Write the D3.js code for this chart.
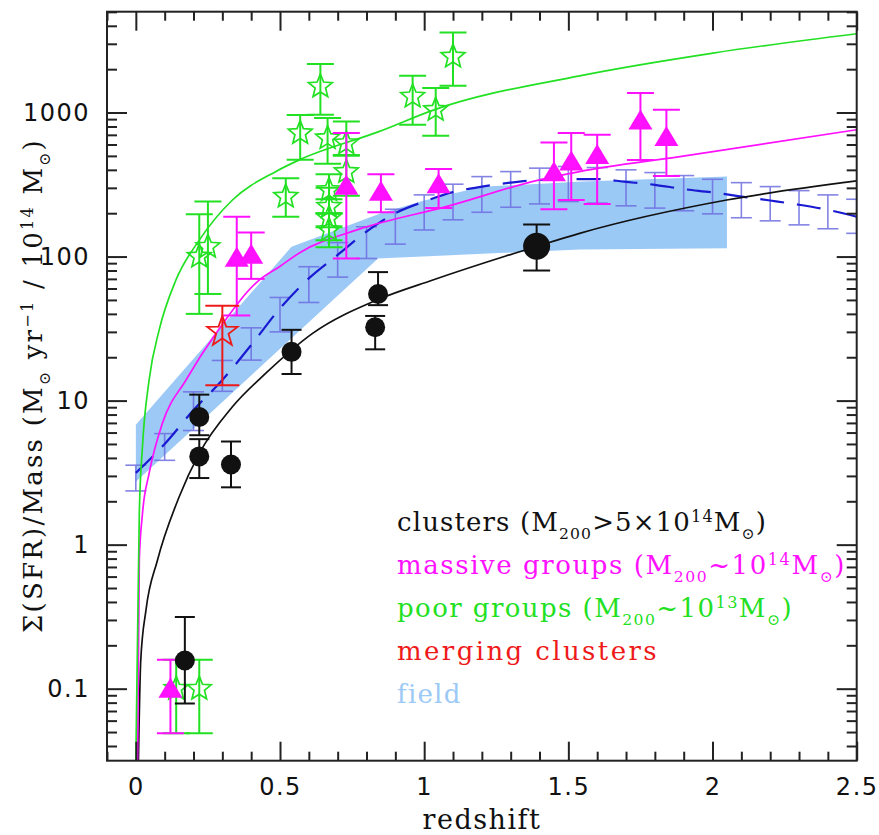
<!DOCTYPE html>
<html>
<head>
<meta charset="utf-8">
<script src="https://cdn.jsdelivr.net/npm/d3@7"></script>
<style>
  body { margin: 0; background: #fff; }
</style>
</head>
<body>
<div id="chart"></div>
<script>
// ---- data ----

// clusters (black filled circles)
const clusterZ   = [0.17, 0.22, 0.22, 0.33, 0.54, 0.84, 0.83];
const clusterVal = [0.157, 7.7, 4.1, 3.6, 21.8, 55, 32.3];
const clusterLo  = [0.079, 5.75, 2.9, 2.5, 15.3, 46, 22.7];
const clusterHi  = [0.315, 11, 5.4, 5.2, 31, 78, 38.7];
// high-z cluster, plotted with a larger symbol
const bigClusterZ   = [1.39];
const bigClusterVal = [118];
const bigClusterLo  = [80];
const bigClusterHi  = [167];

// massive groups (magenta triangles)
const massiveZ   = [0.12, 0.35, 0.40, 0.73, 0.85, 1.05, 1.45, 1.51, 1.60, 1.75, 1.84];
const massiveVal = [0.1, 98, 103, 310, 282, 318, 385, 457, 508, 880, 675];
const massiveLo  = [0.049, 39, 70, 97, 203, 217, 213, 247, 232, 469, 363];
const massiveHi  = [0.159, 189, 147, 720, 373, 406, 620, 720, 700, 1365, 1045];

// poor groups (green open stars)
const poorZ   = [0.14, 0.22, 0.22, 0.25, 0.52, 0.57, 0.64, 0.665, 0.67, 0.67, 0.67, 0.67, 0.73, 0.73, 0.96, 1.04, 1.10];
const poorVal = [0.1, 0.1, 100, 117, 261, 720, 1517, 664, 290, 222, 185, 153, 612, 387, 1292, 1044, 2448];
const poorLo  = [0.049, 0.049, 40, 55, 189, 470, 964, 441, 200, 160, 130, 116, 508, 264, 822, 689, 1534];
const poorHi  = [0.159, 0.159, 197, 241, 350, 960, 2170, 915, 373, 300, 250, 200, 865, 502, 1800, 1478, 3594];

// merging clusters (red open star)
const mergingZ   = [0.30];
const mergingVal = [30];
const mergingLo  = [12.8];
const mergingHi  = [45.6];

// field: dashed model with error bars
const fieldZ   = [0, 0.1, 0.2, 0.3, 0.4, 0.5, 0.6, 0.7, 0.8, 0.9, 1.0, 1.1, 1.2,
                  1.3, 1.4, 1.5, 1.6, 1.7, 1.8, 1.9, 2.0, 2.1, 2.2, 2.3, 2.4, 2.5];
const fieldVal = [3.15, 5.0, 8.6, 13.9, 24.3, 43.7, 70.6, 102.6, 148.9, 200, 241, 280, 306,
                  326, 340, 344, 345, 330, 315, 294, 279, 261, 245, 229, 211, 189];
const fieldLo  = [2.36, 3.85, 6.2, 11.6, 19.1, 30, 48, 72, 97, 122, 153, 180, 203,
                  220, 232, 241, 235, 225, 217, 208, 198, 186, 177, 166, 156, 145];
const fieldHi  = [3.56, 5.9, 11.5, 19, 32, 52, 85, 125, 161, 213, 268, 318, 359,
                  389, 411, 422, 415, 400, 383, 365, 344, 326, 306, 287, 268, 250];

// field: shaded band
const bandTopZ    = [0, 0.54, 0.85, 1.0, 1.2, 1.55, 2.05];
const bandTopVal  = [6.8, 117, 200, 245, 305, 332, 359];
const bandBotZ    = [0, 0.84, 1.54, 2.05];
const bandBotVal  = [2.73, 97, 112, 114];

// model curves
const blackCurveZ   = [0.009, 0.017, 0.035, 0.075, 0.15, 0.22, 0.335, 0.451, 0.613, 0.837, 1.03, 1.395, 1.539, 2.049, 2.5];
const blackCurveVal = [0.0316, 0.157, 0.35, 0.78, 2.14, 4.3, 9.06, 15.5, 29.3, 50, 68.7, 118.5, 145, 247, 335];
const magentaCurveZ   = [0.006, 0.012, 0.023, 0.046, 0.092, 0.174, 0.278, 0.428, 0.498, 0.567, 0.775, 1.076, 1.4, 1.539, 1.887, 2.5];
const magentaCurveVal = [0.0316, 0.78, 1.64, 3.12, 6.95, 13.9, 29.3, 68.7, 85, 106, 155, 222, 341, 389, 494, 759];
const greenCurveZ   = [0.0, 0.012, 0.023, 0.046, 0.081, 0.139, 0.22, 0.335, 0.486, 0.567, 0.845, 1.034, 1.539, 2.002, 2.5];
const greenCurveVal = [0.0316, 1.64, 4.8, 13.9, 31, 68.7, 130, 247, 390, 469, 740, 1044, 1798, 2588, 3524];

// axes
const xTickValues = [0, 0.5, 1, 1.5, 2, 2.5];
const xTickLabels = ['0', '0.5', '1', '1.5', '2', '2.5'];
const yTickValues = [0.1, 1, 10, 100, 1000];
const yTickLabels = ['0.1', '1', '10', '100', '1000'];

// ---- drawing ----
const width = 879, height = 835;
const plotLeft = 107, plotRight = 856.7, plotTop = 11.7, plotBottom = 760.7;

const colors = {
  black: '#111',
  magenta: '#ff10ff',
  green: '#22e022',
  red: '#ee1a1a',
  fieldLine: '#1a1ad2',
  fieldBar: '#6e6ee0',
  band: '#9cc9f6',
  axis: '#222'
};

const svg = d3.select('#chart')
  .append('svg')
  .attr('width', width)
  .attr('height', height);

const x = d3.scaleLinear().domain([-0.1, 2.5]).range([plotLeft, plotRight]);
const y = d3.scaleLog().domain([Math.pow(10, -1.5), Math.pow(10, 3.7)]).range([plotBottom, plotTop]);

svg.append('defs').append('clipPath')
  .attr('id', 'plot-clip')
  .append('rect')
  .attr('x', plotLeft).attr('y', plotTop)
  .attr('width', plotRight - plotLeft).attr('height', plotBottom - plotTop);

const plot = svg.append('g').attr('clip-path', 'url(#plot-clip)');

// shaded field band
const bandPts = bandTopZ.map((z, i) => [z, bandTopVal[i]])
  .concat(bandBotZ.map((z, i) => [z, bandBotVal[i]]).reverse());
plot.append('path')
  .attr('d', d3.line().x(d => x(d[0])).y(d => y(d[1]))(bandPts) + 'Z')
  .attr('fill', colors.band)
  .attr('stroke', 'none');

// error bars helper
function errorBars(g, zs, lo, hi, half, color, lw, opacity = 1) {
  const eb = g.append('g')
    .attr('stroke', color)
    .attr('stroke-width', lw)
    .attr('opacity', opacity)
    .attr('fill', 'none');
  zs.forEach((z, i) => {
    const cx = x(z);
    eb.append('line').attr('x1', cx).attr('x2', cx).attr('y1', y(lo[i])).attr('y2', y(hi[i]));
    eb.append('line').attr('x1', cx - half).attr('x2', cx + half).attr('y1', y(lo[i])).attr('y2', y(lo[i]));
    eb.append('line').attr('x1', cx - half).attr('x2', cx + half).attr('y1', y(hi[i])).attr('y2', y(hi[i]));
  });
}

// field error bars and dashed line
errorBars(plot, fieldZ, fieldLo, fieldHi, 10.5, colors.fieldBar, 1.6, 0.85);
plot.append('path')
  .datum(fieldZ.map((z, i) => [z, fieldVal[i]]))
  .attr('d', d3.line().x(d => x(d[0])).y(d => y(d[1])).curve(d3.curveMonotoneX))
  .attr('fill', 'none')
  .attr('stroke', colors.fieldLine)
  .attr('stroke-width', 2.2)
  .attr('stroke-dasharray', '24,13');

// model curves
function curve(zs, vals, color) {
  plot.append('path')
    .datum(zs.map((z, i) => [z, vals[i]]))
    .attr('d', d3.line().x(d => x(d[0])).y(d => y(d[1])).curve(d3.curveMonotoneX))
    .attr('fill', 'none')
    .attr('stroke', color)
    .attr('stroke-width', 1.7);
}
curve(blackCurveZ, blackCurveVal, colors.black);
curve(magentaCurveZ, magentaCurveVal, colors.magenta);
curve(greenCurveZ, greenCurveVal, colors.green);

// symbol paths
function starPath(R, r) {
  const pts = [];
  for (let k = 0; k < 10; k++) {
    const a = -Math.PI / 2 + k * Math.PI / 5;
    const rad = k % 2 === 0 ? R : r;
    pts.push([rad * Math.cos(a), rad * Math.sin(a)]);
  }
  return 'M' + pts.map(p => p[0].toFixed(2) + ',' + p[1].toFixed(2)).join('L') + 'Z';
}
const triPath = 'M0,-11L12,9L-12,9Z';

// poor groups
errorBars(plot, poorZ, poorLo, poorHi, 13.5, colors.green, 2);
plot.append('g').selectAll('path')
  .data(poorZ)
  .join('path')
  .attr('transform', (z, i) => `translate(${x(z)},${y(poorVal[i])})`)
  .attr('d', starPath(12.5, 5.5))
  .attr('fill', 'none')
  .attr('stroke', colors.green)
  .attr('stroke-width', 1.7);

// massive groups
errorBars(plot, massiveZ, massiveLo, massiveHi, 13.5, colors.magenta, 2);
plot.append('g').selectAll('path')
  .data(massiveZ)
  .join('path')
  .attr('transform', (z, i) => `translate(${x(z)},${y(massiveVal[i])})`)
  .attr('d', triPath)
  .attr('fill', colors.magenta);

// clusters
errorBars(plot, clusterZ, clusterLo, clusterHi, 10, colors.black, 2);
plot.append('g').selectAll('circle')
  .data(clusterZ)
  .join('circle')
  .attr('cx', z => x(z))
  .attr('cy', (z, i) => y(clusterVal[i]))
  .attr('r', 10)
  .attr('fill', colors.black);
errorBars(plot, bigClusterZ, bigClusterLo, bigClusterHi, 13.5, colors.black, 2);
plot.append('g').selectAll('circle')
  .data(bigClusterZ)
  .join('circle')
  .attr('cx', z => x(z))
  .attr('cy', (z, i) => y(bigClusterVal[i]))
  .attr('r', 13.5)
  .attr('fill', colors.black);

// merging clusters
errorBars(plot, mergingZ, mergingLo, mergingHi, 17, colors.red, 2);
plot.append('g').selectAll('path')
  .data(mergingZ)
  .join('path')
  .attr('transform', (z, i) => `translate(${x(z)},${y(mergingVal[i])})`)
  .attr('d', starPath(16, 6.5))
  .attr('fill', 'none')
  .attr('stroke', colors.red)
  .attr('stroke-width', 1.8);

// ---- axes (ticks point inward) ----
const xMinor = d3.range(-1, 26).map(i => i / 10).filter(v => !xTickValues.includes(v));
const yMinor = [];
for (let d = -2; d <= 3; d++) {
  for (let k = 2; k <= 9; k++) {
    const v = k * Math.pow(10, d);
    if (v > y.domain()[0] && v < y.domain()[1]) yMinor.push(v);
  }
}

function styleAxis(g) {
  g.select('.domain').remove();
  g.selectAll('.tick line').attr('stroke', colors.axis).attr('stroke-width', 2);
}

const tickFont = '"DejaVu Sans", sans-serif';

svg.append('g')
  .attr('transform', `translate(0,${plotBottom})`)
  .call(d3.axisBottom(x).tickValues(xTickValues).tickSize(-19).tickPadding(17)
    .tickFormat((d, i) => xTickLabels[i]))
  .call(styleAxis)
  .call(g => g.selectAll('text')
    .attr('fill', '#111').style('font-family', tickFont).style('font-size', '24px')
    .style('letter-spacing', '1.5px'));
svg.append('g')
  .attr('transform', `translate(0,${plotBottom})`)
  .call(d3.axisBottom(x).tickValues(xMinor).tickSize(-9).tickFormat(''))
  .call(styleAxis);
svg.append('g')
  .attr('transform', `translate(0,${plotTop})`)
  .call(d3.axisTop(x).tickValues(xTickValues).tickSize(-19).tickFormat(''))
  .call(styleAxis);
svg.append('g')
  .attr('transform', `translate(0,${plotTop})`)
  .call(d3.axisTop(x).tickValues(xMinor).tickSize(-9).tickFormat(''))
  .call(styleAxis);

svg.append('g')
  .attr('transform', `translate(${plotLeft},0)`)
  .call(d3.axisLeft(y).tickValues(yTickValues).tickSize(-20).tickPadding(17)
    .tickFormat((d, i) => yTickLabels[i]))
  .call(styleAxis)
  .call(g => g.selectAll('text')
    .attr('fill', '#111').style('font-family', tickFont).style('font-size', '24px')
    .style('letter-spacing', '1.5px'));
svg.append('g')
  .attr('transform', `translate(${plotLeft},0)`)
  .call(d3.axisLeft(y).tickValues(yMinor).tickSize(-10).tickFormat(''))
  .call(styleAxis);
svg.append('g')
  .attr('transform', `translate(${plotRight},0)`)
  .call(d3.axisRight(y).tickValues(yTickValues).tickSize(-20).tickFormat(''))
  .call(styleAxis);
svg.append('g')
  .attr('transform', `translate(${plotRight},0)`)
  .call(d3.axisRight(y).tickValues(yMinor).tickSize(-10).tickFormat(''))
  .call(styleAxis);

// frame
svg.append('rect')
  .attr('x', plotLeft).attr('y', plotTop)
  .attr('width', plotRight - plotLeft).attr('height', plotBottom - plotTop)
  .attr('fill', 'none')
  .attr('stroke', colors.axis)
  .attr('stroke-width', 2);

// ---- rich text helper (sub / superscripts) ----
const serif = '"DejaVu Serif", serif';
function richText(sel, parts, size) {
  let shift = 0;
  parts.forEach(p => {
    const t = sel.append('tspan').text(p.t);
    let target = 0, fs = size;
    if (p.s === 'sub') { target = 0.3 * size; fs = size * 0.6; }
    if (p.s === 'sup') { target = -0.36 * size; fs = size * 0.62; }
    t.attr('dy', target - shift).style('font-size', fs + 'px');
    shift = target;
  });
}

// stretch spacing so a line spans the same width as in the figure
function fitWidth(textSel, target) {
  const w = textSel.node().getComputedTextLength();
  const n = textSel.text().length;
  if (n > 1) textSel.style('letter-spacing', ((target - w) / n) + 'px');
}

// legend
const legendRows = [
  { color: colors.black, width: 370, parts: [{ t: 'clusters (M' }, { t: '200', s: 'sub' }, { t: '>5×10' }, { t: '14', s: 'sup' }, { t: 'M' }, { t: '⊙', s: 'sub' }, { t: ')' }] },
  { color: colors.magenta, width: 449, parts: [{ t: 'massive groups (M' }, { t: '200', s: 'sub' }, { t: '~10' }, { t: '14', s: 'sup' }, { t: 'M' }, { t: '⊙', s: 'sub' }, { t: ')' }] },
  { color: colors.green, width: 396, parts: [{ t: 'poor groups (M' }, { t: '200', s: 'sub' }, { t: '~10' }, { t: '13', s: 'sup' }, { t: 'M' }, { t: '⊙', s: 'sub' }, { t: ')' }] },
  { color: colors.red, width: 262, parts: [{ t: 'merging clusters' }] },
  { color: colors.band, width: 64, parts: [{ t: 'field' }] }
];
legendRows.forEach((row, i) => {
  const t = svg.append('text')
    .attr('x', 397)
    .attr('y', 531 + i * 43)
    .attr('fill', row.color)
    .style('font-family', serif)
    .style('font-size', '26px');
  richText(t, row.parts, 26);
  fitWidth(t, row.width);
});

// axis titles
const xTitle = svg.append('text')
  .attr('x', 422.5)
  .attr('y', 829)
  .attr('fill', '#111')
  .style('font-family', serif)
  .style('font-size', '27px')
  .text('redshift');
fitWidth(xTitle, 119);

const yTitle = svg.append('text')
  .attr('transform', `translate(42,633) rotate(-90)`)
  .attr('fill', '#111')
  .style('font-family', serif)
  .style('font-size', '26px');
richText(yTitle, [
  { t: 'Σ(SFR)/Mass (M' }, { t: '⊙', s: 'sub' }, { t: ' yr' }, { t: '−1', s: 'sup' },
  { t: ' / 10' }, { t: '14', s: 'sup' }, { t: ' M' }, { t: '⊙', s: 'sub' }, { t: ')' }
], 26);
fitWidth(yTitle, 495);
</script>
</body>
</html>
